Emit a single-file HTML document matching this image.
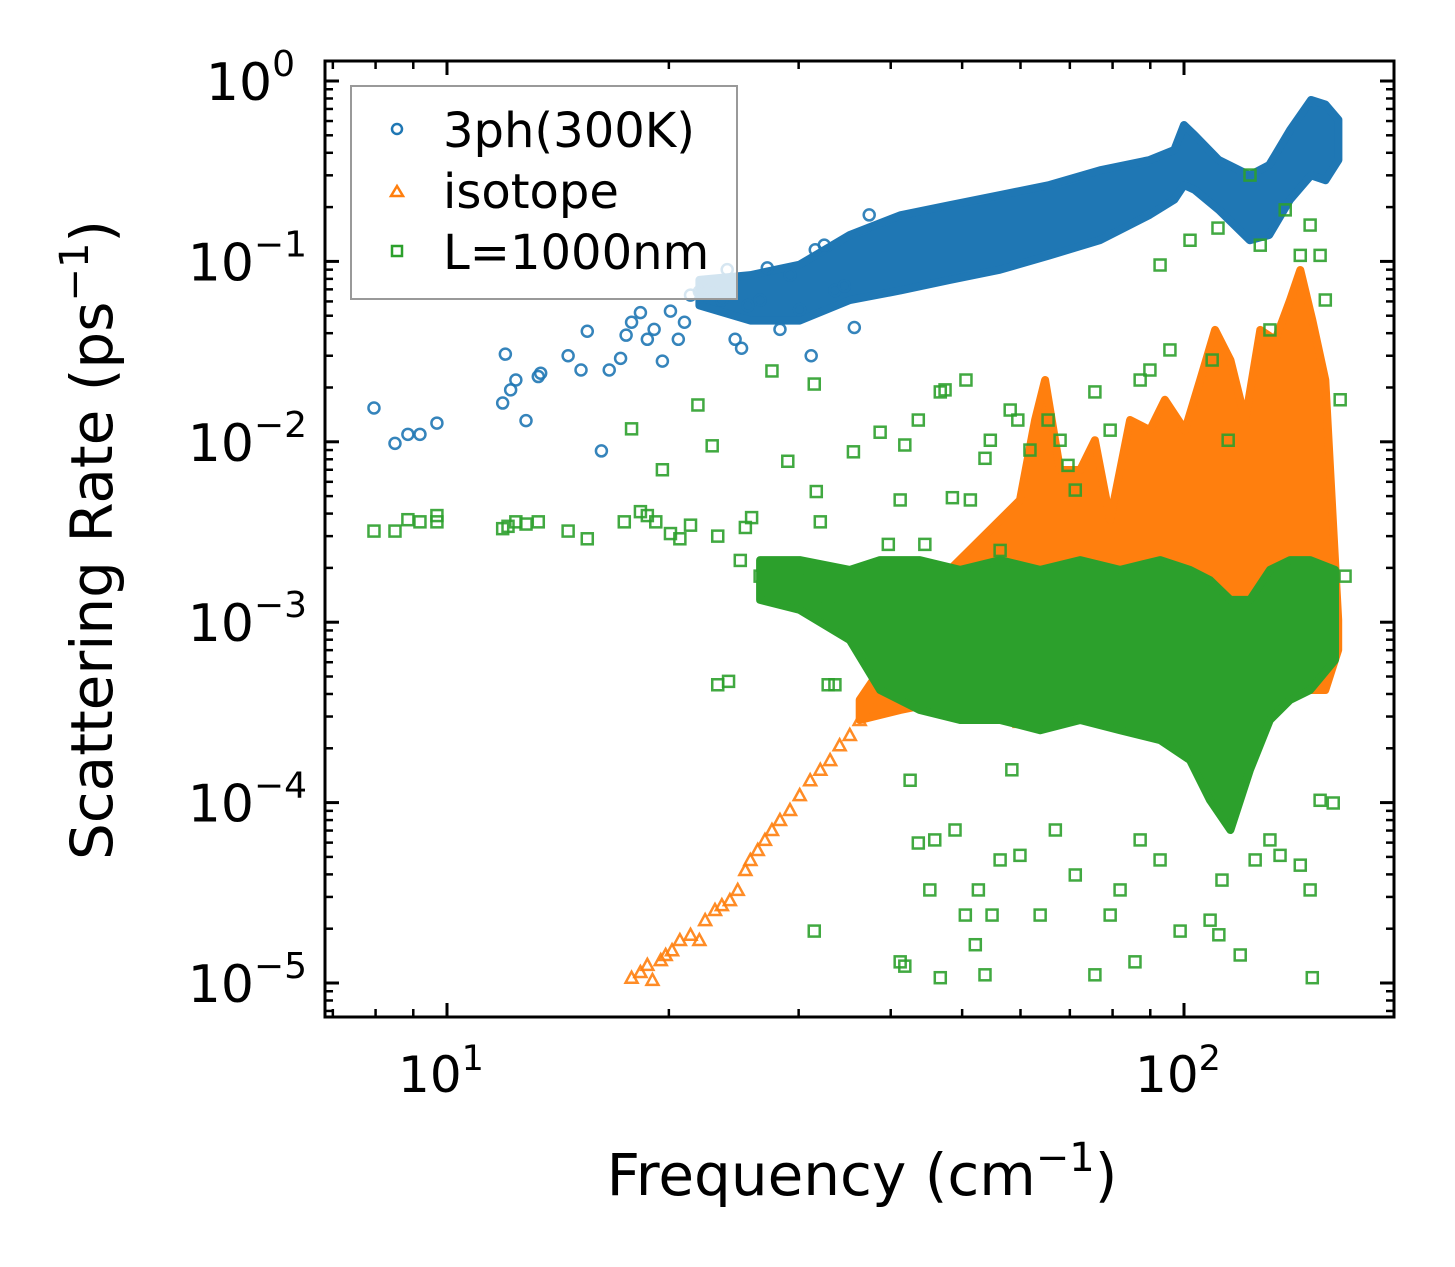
<!DOCTYPE html>
<html><head><meta charset="utf-8"><style>
html,body{margin:0;padding:0;background:#fff;}
svg{display:block;font-family:"DejaVu Sans","Liberation Sans",sans-serif;}
</style></head><body>
<svg id="chart" width="1455" height="1267" viewBox="0 0 1455 1267" xmlns="http://www.w3.org/2000/svg">
<rect width="1455" height="1267" fill="#fff"/>
<g id="plot"></g>
<g id="axes"></g>
<g>
<rect x="351" y="86" width="386" height="213" fill="#fff" fill-opacity="0.8" stroke="#999" stroke-width="2"/>
<circle cx="397" cy="129" r="5" fill="none" stroke="#1f77b4" stroke-width="2.5"/>
<text x="443" y="147" font-size="48">3ph(300K)</text>
<path d="M391 196 L397 186 L403 196 Z" fill="none" stroke="#ff7f0e" stroke-width="2.5"/>
<text x="443" y="208" font-size="48">isotope</text>
<rect x="392" y="246" width="10" height="10" fill="none" stroke="#2ca02c" stroke-width="2.5"/>
<text x="443" y="269" font-size="48">L=1000nm</text>
</g>
<text x="862" y="1195" font-size="58" text-anchor="middle">Frequency (cm<tspan dy="-24" font-size="40">−1</tspan><tspan dy="24">)</tspan></text>
<text transform="translate(112,540) rotate(-90)" font-size="58" text-anchor="middle">Scattering Rate (ps<tspan dy="-24" font-size="40">−1</tspan><tspan dy="24">)</tspan></text>
</svg>
<script>
// ---- data ----
const xTickDecades = [1, 2];
const yTickDecades = [0, -1, -2, -3, -4, -5];
// 3ph scattered points
const phFreq = [7.96,8.5,8.85,9.19,9.69,11.9,12.0,12.2,12.4,12.8,13.3,13.4,14.6,15.2,15.5,16.2,16.6,17.2,17.5,17.8,18.3,18.7,19.1,19.6,20.1,20.6,21.0,21.4,22.0,22.7,23.1,23.6,24.0,24.6,25.1,25.6,26.6,27.2,28.3,29.2,30.1,31.2,31.6,32.5,33.6,34.6,35.7,37.4];
const phRate = [0.0154,0.0098,0.011,0.011,0.0127,0.0164,0.0306,0.0194,0.022,0.0131,0.023,0.024,0.030,0.025,0.041,0.0089,0.025,0.029,0.039,0.046,0.052,0.037,0.042,0.028,0.053,0.037,0.046,0.065,0.068,0.069,0.068,0.061,0.090,0.037,0.033,0.057,0.061,0.092,0.042,0.084,0.054,0.030,0.116,0.123,0.069,0.073,0.043,0.181];
// 3ph dense band
const phBandFreq = [22.0,25.8,30.1,35.2,41.2,48.1,56.3,65.7,76.9,89.8,97.0,100,103.4,111.5,122.8,130.5,139.3,148.7,155.6,162];
const phBandHigh = [0.079,0.084,0.096,0.140,0.180,0.205,0.233,0.265,0.32,0.365,0.415,0.57,0.50,0.365,0.30,0.342,0.535,0.785,0.74,0.61];
const phBandLow = [0.057,0.047,0.047,0.061,0.069,0.079,0.090,0.108,0.131,0.181,0.22,0.265,0.249,0.193,0.131,0.140,0.22,0.30,0.282,0.365];
// isotope scattered points
const isoFreq = [17.8,18.3,18.7,19.0,19.5,19.8,20.2,20.7,21.4,22.0,22.4,23.1,23.6,24.2,24.8,25.4,25.8,26.4,27.0,27.6,28.3,29.2,30.1,31.1,32.1,33.1,34.1,35.2,36.3,37.5,38.5,39.3,59.9];
const isoRate = [1.07e-5,1.15e-5,1.26e-5,1.04e-5,1.34e-5,1.43e-5,1.52e-5,1.73e-5,1.85e-5,1.73e-5,2.23e-5,2.54e-5,2.70e-5,2.88e-5,3.28e-5,4.23e-5,4.81e-5,5.46e-5,6.21e-5,7.05e-5,8.01e-5,9.1e-5,1.10e-4,1.33e-4,1.52e-4,1.72e-4,2.08e-4,2.37e-4,2.87e-4,3.71e-4,4.21e-4,4.79e-4,2.8e-4];
// isotope dense band
const isoBandFreq = [36.3,41.2,48.1,56.3,59.9,62.8,64.8,67.9,72.3,75.7,79.4,84.5,89.9,94.2,100.3,105.2,110.2,115.6,121.1,126.9,133.0,139.3,143.8,149.3,155.5,161.9];
const isoBandHigh = [3.71e-4,7.96e-4,1.95e-3,3.69e-3,4.76e-3,0.0132,0.0220,6.98e-3,6.98e-3,0.0102,3.69e-3,0.0132,0.0116,0.0171,0.0116,0.0220,0.0417,0.0284,0.0132,0.0417,0.0367,0.0611,0.0896,0.0473,0.0220,1.03e-3];
const isoBandLow = [2.87e-4,3.26e-4,3.71e-4,3.71e-4,3.26e-4,2.87e-4,3.71e-4,3.71e-4,4.21e-4,4.21e-4,4.21e-4,4.21e-4,4.79e-4,4.79e-4,4.79e-4,4.79e-4,4.79e-4,4.79e-4,4.79e-4,4.79e-4,4.79e-4,4.21e-4,4.21e-4,4.21e-4,4.21e-4,7.02e-4];
// boundary (L=1000nm) dense band
const bdBandFreq = [26.6,30.1,35.2,38.7,43.8,49.7,56.3,63.8,72.3,81.9,92.8,101.9,108.5,115.6,122.9,130.8,139.3,148.3,160.3];
const bdBandHigh = [2.21e-3,2.21e-3,1.95e-3,2.21e-3,2.21e-3,1.95e-3,2.21e-3,1.95e-3,2.21e-3,1.95e-3,2.21e-3,1.95e-3,1.71e-3,1.33e-3,1.33e-3,1.95e-3,2.21e-3,2.21e-3,1.95e-3];
const bdBandLow = [1.33e-3,1.17e-3,7.96e-4,4.21e-4,3.26e-4,2.87e-4,2.87e-4,2.52e-4,2.87e-4,2.52e-4,2.22e-4,1.72e-4,1.03e-4,7.05e-5,1.52e-4,2.87e-4,3.71e-4,4.21e-4,6.18e-4];
// boundary scattered points
const bdFreq = [7.96,8.5,8.85,9.19,9.69,9.69,11.9,12.1,12.4,12.8,13.3,14.6,15.5,17.4,17.8,18.3,18.7,19.2,19.6,20.1,20.7,21.4,21.9,22.9,23.3,24.1,25.0,25.4,25.9,26.6,27.6,29.0,30.1,31.5,31.7,32.1,32.9,33.6,35.6,36.6,38.7,39.7,41.2,41.8,43.6,44.5,46.7,47.4,48.5,50.6,51.3,53.7,54.6,56.3,58.1,59.5,61.8,65.4,67.9,69.6,71.2,75.7,79.4,87.2,89.9,92.8,95.7,101.9,109.2,111.2,114.8,122.9,126.9,130.8,137.2,143.8,148.3,153.0,155.5,162.9,165.4,
23.3,31.5,32.9,41.2,41.8,42.5,43.6,45.2,45.9,46.7,48.9,50.5,52.1,52.6,53.7,54.9,56.3,58.4,59.9,63.8,66.9,71.2,75.7,79.4,81.9,85.8,87.2,92.8,98.8,108.5,111.5,112.6,119.2,124.9,130.8,135.0,143.8,148.3,149.3,153.0,159.4];
const bdRate = [3.2e-3,3.2e-3,3.7e-3,3.6e-3,3.9e-3,3.6e-3,3.3e-3,3.4e-3,3.6e-3,3.5e-3,3.6e-3,3.2e-3,2.9e-3,3.6e-3,0.0118,4.1e-3,3.9e-3,3.6e-3,7.0e-3,3.1e-3,2.9e-3,3.45e-3,0.016,9.5e-3,3.0e-3,4.7e-4,2.2e-3,3.35e-3,3.8e-3,1.8e-3,0.0247,7.8e-3,1.75e-3,0.0209,5.3e-3,3.6e-3,1.4e-3,4.5e-4,8.8e-3,8.4e-4,0.0113,2.7e-3,4.76e-3,9.6e-3,0.0132,2.7e-3,0.0189,0.0194,4.9e-3,0.022,4.76e-3,8.1e-3,0.0102,2.5e-3,0.015,0.0132,9.0e-3,0.0132,0.0102,7.4e-3,5.4e-3,0.0189,0.0116,0.022,0.025,0.0955,0.0323,0.131,0.0284,0.153,0.0102,0.301,0.123,0.0417,0.193,0.108,0.159,0.108,0.0611,0.0171,1.8e-3,
4.5e-4,1.94e-5,4.5e-4,1.31e-5,1.24e-5,1.33e-4,5.97e-5,3.28e-5,6.21e-5,1.07e-5,7.05e-5,2.38e-5,1.63e-5,3.28e-5,1.11e-5,2.38e-5,4.81e-5,1.52e-4,5.1e-5,2.38e-5,7.05e-5,3.97e-5,1.11e-5,2.38e-5,3.28e-5,1.31e-5,6.21e-5,4.81e-5,1.94e-5,2.23e-5,1.85e-5,3.72e-5,1.43e-5,4.81e-5,6.21e-5,5.1e-5,4.5e-5,3.28e-5,1.07e-5,1.03e-4,9.95e-5];

// ---- axes ----
const X0=325,X1=1394,Y0=61,Y1=1017;
const xs = f => 447 + (Math.log10(f)-1)*737;
const ys = r => 81 - Math.log10(r)*180.4;
const NS="http://www.w3.org/2000/svg";
const plot=document.getElementById('plot'), axes=document.getElementById('axes');
function mk(tag,attrs,parent){const e=document.createElementNS(NS,tag);for(const k in attrs)e.setAttribute(k,attrs[k]);parent.appendChild(e);return e;}

const clip=mk('clipPath',{id:'clp'},plot); mk('rect',{x:X0,y:Y0,width:X1-X0,height:Y1-Y0},clip);
plot.setAttribute('clip-path','url(#clp)');

function band(fr,hi,lo,color,name){
  let pts=[];
  for(let i=0;i<fr.length;i++)pts.push(xs(fr[i]).toFixed(1)+','+ys(hi[i]).toFixed(1));
  for(let i=fr.length-1;i>=0;i--)pts.push(xs(fr[i]).toFixed(1)+','+ys(lo[i]).toFixed(1));
  const p=mk('polygon',{points:pts.join(' '),fill:color,stroke:color,'stroke-width':8,'stroke-linejoin':'round'},plot);
  
  
}
function pts(fr,rt,kind,color,name){
  for(let i=0;i<fr.length;i++){
    const x=xs(fr[i]),y=ys(rt[i]);let e;
    if(kind==='c')e=mk('circle',{cx:x,cy:y,r:5.5,fill:'none',stroke:color,'stroke-width':2.5,opacity:0.9},plot);
    else if(kind==='t')e=mk('path',{d:`M${x-6} ${y+5}L${x} ${y-6}L${x+6} ${y+5}Z`,fill:'none',stroke:color,'stroke-width':2.5,opacity:0.9},plot);
    else e=mk('rect',{x:x-5.5,y:y-5.5,width:11,height:11,fill:'none',stroke:color,'stroke-width':2.5,opacity:0.9},plot);
    
    
  }
}
band(phBandFreq,phBandHigh,phBandLow,'#1f77b4','3ph-dense-band');
pts(phFreq,phRate,'c','#1f77b4','3ph-point');
band(isoBandFreq,isoBandHigh,isoBandLow,'#ff7f0e','isotope-dense-band');
pts(isoFreq,isoRate,'t','#ff7f0e','isotope-point');
band(bdBandFreq,bdBandHigh,bdBandLow,'#2ca02c','boundary-dense-band');
pts(bdFreq,bdRate,'s','#2ca02c','boundary-point');

// frame
const fr=mk('rect',{x:X0,y:Y0,width:X1-X0,height:Y1-Y0,fill:'none',stroke:'#000','stroke-width':3},axes);


// x ticks
for(let d=0;d<=2;d++)for(let m=1;m<=9;m++){
  const v=m*Math.pow(10,d);const x=xs(v);if(x<X0||x>X1)continue;
  const L=m===1?14:8;
  mk('line',{x1:x,y1:Y1,x2:x,y2:Y1-L,stroke:'#000','stroke-width':m===1?3:2.5},axes);
  mk('line',{x1:x,y1:Y0,x2:x,y2:Y0+L,stroke:'#000','stroke-width':m===1?3:2.5},axes);
}
xTickDecades.forEach(d=>{
  const t=mk('text',{x:xs(Math.pow(10,d))-6,y:1092,'font-size':50,'text-anchor':'middle'},axes);
  t.textContent='10';const s=mk('tspan',{dy:-22,'font-size':35},t);s.textContent=String(d);
  
  
});
// y ticks
for(let d=-6;d<=0;d++)for(let m=1;m<=9;m++){
  const v=m*Math.pow(10,d);const y=ys(v);if(y<Y0||y>Y1)continue;
  const L=m===1?14:8;
  mk('line',{x1:X0,y1:y,x2:X0+L,y2:y,stroke:'#000','stroke-width':m===1?3:2.5},axes);
  mk('line',{x1:X1,y1:y,x2:X1-L,y2:y,stroke:'#000','stroke-width':m===1?3:2.5},axes);
}
yTickDecades.forEach(d=>{
  const t=mk('text',{x:d<0?307:295,y:ys(Math.pow(10,d))+19,'font-size':52,'text-anchor':'end'},axes);
  t.textContent='10';const s=mk('tspan',{dy:-24,'font-size':36},t);s.textContent=d<0?'−'+(-d):String(d);
  
  
});
</script>
</body></html>
